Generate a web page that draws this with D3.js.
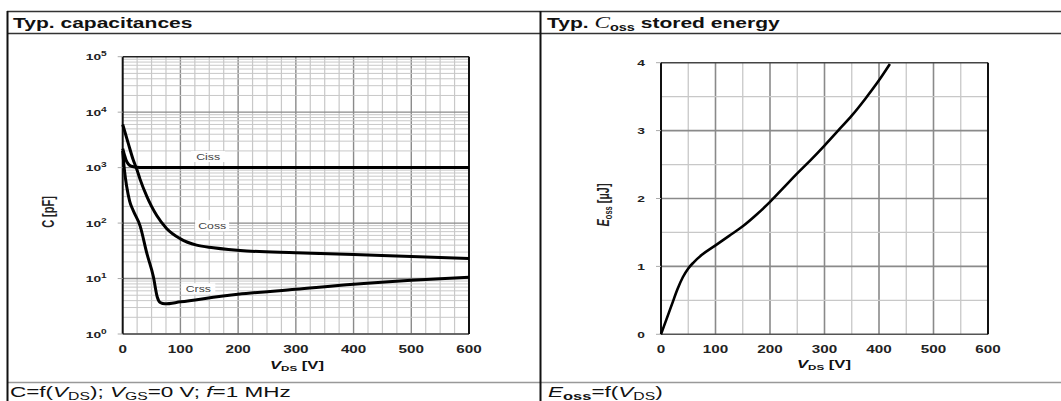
<!DOCTYPE html>
<html><head><meta charset="utf-8">
<script src="https://cdn.jsdelivr.net/npm/d3@7"></script>
<style>
body{margin:0;background:#fff;}
svg{display:block;font-family:"Liberation Sans",Arial,sans-serif;}
</style></head>
<body><svg id="c" width="1061" height="401"></svg>
<script>
// ---- Data: capacitances (pF) vs VDS (V)
const cissV = [0, 3, 6, 10, 15, 20, 30, 50, 100, 200, 300, 400, 500, 600];
const cissC = [2200, 1700, 1350, 1150, 1060, 1030, 1008, 1000, 1000, 1000, 1000, 1000, 1000, 1000];
const cossV = [0, 5, 10, 18, 25, 30, 42, 50, 59, 76, 100, 128, 157, 215, 300, 400, 500, 600];
const cossC = [6000, 4000, 2650, 1400, 900, 620, 300, 200, 137, 80, 52, 40, 36, 31.5, 29.3, 27, 25, 23];
const crssV = [0, 3, 7, 12, 18, 30, 42, 53, 60, 65, 73, 100, 200, 300, 400, 500, 600];
const crssC = [2000, 900, 450, 250, 170, 90, 28, 11, 4.6, 3.7, 3.5, 3.8, 5.2, 6.4, 7.9, 9.3, 10.5];
const capXTicks = [0, 100, 200, 300, 400, 500, 600];
const capYExp = [0, 1, 2, 3, 4, 5];
const capLabels = ["Ciss", "Coss", "Crss"];
// ---- Data: Eoss (uJ) vs VDS (V)
const eossV = [0, 10, 20, 30, 40, 50, 60, 75, 100, 125, 150, 175, 200, 225, 250, 275, 300, 325, 350, 375, 400, 420];
const eossE = [0, 0.22, 0.44, 0.66, 0.84, 0.97, 1.06, 1.17, 1.31, 1.45, 1.59, 1.76, 1.95, 2.16, 2.37, 2.57, 2.78, 3.0, 3.22, 3.47, 3.74, 3.98];
const eXTicks = [0, 100, 200, 300, 400, 500, 600];
const eYTicks = [0, 1, 2, 3, 4];

const SX = 1.45; // horizontal stretch of the source typography
const svg = d3.select("#c");

function stext(parent, x, y, opts){
  opts = opts || {};
  const g = parent.append("g").attr("transform", `translate(${x},${y}) scale(${opts.sx||SX},1)` + (opts.rot?` rotate(${opts.rot})`:""));
  return g.append("text").attr("x",0).attr("y",0).attr("text-anchor",opts.anchor||"start");
}

// ---- table frame
const frame = svg.append("g");
frame.append("line").attr("x1",7).attr("x2",1061).attr("y1",11.5).attr("y2",11.5).attr("stroke","#333").attr("stroke-width",1.5);
frame.append("line").attr("x1",7).attr("x2",1061).attr("y1",33.5).attr("y2",33.5).attr("stroke","#333").attr("stroke-width",1.5);
frame.append("line").attr("x1",7).attr("x2",1061).attr("y1",382.5).attr("y2",382.5).attr("stroke","#999").attr("stroke-width",1.5);
frame.append("line").attr("x1",7.5).attr("x2",7.5).attr("y1",11).attr("y2",401).attr("stroke","#111").attr("stroke-width",2);
frame.append("line").attr("x1",540.5).attr("x2",540.5).attr("y1",11).attr("y2",401).attr("stroke","#111").attr("stroke-width",2);

// titles
stext(svg,13,27.5).attr("font-size",14.5).attr("font-weight","bold").attr("fill","#111").text("Typ. capacitances");
const t2 = stext(svg,547,27.5).attr("font-size",14.5).attr("font-weight","bold").attr("fill","#111");
t2.append("tspan").text("Typ. ");
t2.append("tspan").attr("font-family","Liberation Serif,serif").attr("font-style","italic").attr("font-weight","normal").attr("font-size",16).text("C");
t2.append("tspan").attr("font-size",10).attr("dy",3).text("oss");
t2.append("tspan").attr("dy",-3).text(" stored energy");

// footer texts (cut by the bottom edge, as in the source)
const f1 = stext(svg,10,397,{sx:1.5}).attr("font-size",15).attr("fill","#111");
f1.append("tspan").text("C=f(");
f1.append("tspan").attr("font-style","italic").text("V");
f1.append("tspan").attr("font-size",10.5).attr("dy",2.5).text("DS");
f1.append("tspan").attr("dy",-2.5).text("); ");
f1.append("tspan").attr("font-style","italic").text("V");
f1.append("tspan").attr("font-size",10.5).attr("dy",2.5).text("GS");
f1.append("tspan").attr("dy",-2.5).text("=0 V; ");
f1.append("tspan").attr("font-style","italic").text("f");
f1.append("tspan").text("=1 MHz");
const f2 = stext(svg,548,397,{sx:1.5}).attr("font-size",15).attr("fill","#111");
f2.append("tspan").attr("font-style","italic").text("E");
f2.append("tspan").attr("font-size",11).attr("font-weight","bold").attr("dy",2.5).text("oss");
f2.append("tspan").attr("dy",-2.5).text("=f(");
f2.append("tspan").attr("font-style","italic").text("V");
f2.append("tspan").attr("font-size",10.5).attr("dy",2.5).text("DS");
f2.append("tspan").attr("dy",-2.5).text(")");

function vdsTitle(g, cx, cy){
  const t = stext(g,cx,cy,{anchor:"middle"}).attr("font-size",11.5).attr("font-weight","bold").attr("fill","#111");
  t.append("tspan").attr("font-style","italic").text("V");
  t.append("tspan").attr("font-size",8).attr("dy",1.5).text("DS");
  t.append("tspan").attr("dy",-1.5).text(" [V]");
}

// ================= Left chart
{
  const x = d3.scaleLinear().domain([0,600]).range([122.7,469]);
  const y = d3.scaleLog().domain([1,1e5]).range([334,56.7]);
  const g = svg.append("g");
  const vg = d3.range(25,600,25);
  g.selectAll(".vg").data(vg).join("line")
    .attr("x1",d=>x(d)).attr("x2",d=>x(d)).attr("y1",y(1)).attr("y2",y(1e5))
    .attr("stroke",d=>d%100===0?"#8a8a8a":"#c8c8c8").attr("stroke-width",d=>d%100===0?1.4:1.2);
  const hg = [];
  capYExp.slice(0,5).forEach(e=>{ for(let k=1;k<=9;k++) hg.push({v:k*Math.pow(10,e),major:k===1}); });
  g.selectAll(".hg").data(hg).join("line")
    .attr("x1",x(0)).attr("x2",x(600)).attr("y1",d=>y(d.v)).attr("y2",d=>y(d.v))
    .attr("stroke",d=>d.major?"#8a8a8a":"#c8c8c8").attr("stroke-width",d=>d.major?1.4:1);
  g.append("line").attr("x1",x(0)).attr("x2",x(600)).attr("y1",y(1e5)).attr("y2",y(1e5)).attr("stroke","#222").attr("stroke-width",1.5);
  g.append("line").attr("x1",x(0)).attr("x2",x(600)).attr("y1",y(1)).attr("y2",y(1)).attr("stroke","#555").attr("stroke-width",1.5);
  g.append("line").attr("x1",x(0)).attr("x2",x(0)).attr("y1",y(1)).attr("y2",y(1e5)).attr("stroke","#111").attr("stroke-width",2);
  g.append("line").attr("x1",x(600)).attr("x2",x(600)).attr("y1",y(1)).attr("y2",y(1e5)).attr("stroke","#111").attr("stroke-width",2);
  capYExp.forEach(d=>{
    const yy = y(Math.pow(10,d));
    g.append("line").attr("x1",x(0)-5).attr("x2",x(0)).attr("y1",yy).attr("y2",yy).attr("stroke","#aaa");
    const t = stext(g, x(0)-16, yy+3.5, {anchor:"end"}).attr("font-size",9.5).attr("font-weight","bold").attr("fill","#222");
    t.append("tspan").text("10");
    t.append("tspan").attr("dy",-4).attr("font-size",7).text(d);
  });
  capXTicks.forEach(d=>{
    stext(g, x(d), 352.5, {anchor:"middle"}).attr("font-size",10.5).attr("font-weight","bold").attr("fill","#222").text(d);
  });
  vdsTitle(g, 297, 369);
  stext(g, 54, 212, {anchor:"middle", rot:-90}).attr("font-size",11).attr("font-weight","bold").attr("fill","#222").text("C [pF]");
  const line = d3.line().x(d=>x(d[0])).y(d=>y(d[1])).curve(d3.curveMonotoneX);
  [[cissV,cissC],[cossV,cossC],[crssV,crssC]].forEach(([vs,cs])=>{
    g.append("path").attr("d",line(vs.map((v,i)=>[v,cs[i]]))).attr("fill","none").attr("stroke","#000").attr("stroke-width",3).attr("stroke-linejoin","round");
  });
  const labPos = [{v:148,c:1550},{v:155,c:88},{v:131,c:6.4}];
  capLabels.forEach((name,i)=>{
    const l = labPos[i];
    g.append("rect").attr("x",x(l.v)-17).attr("y",y(l.c)-6).attr("width",34).attr("height",11).attr("fill","#fff");
    stext(g, x(l.v), y(l.c)+3, {anchor:"middle"}).attr("font-size",8.5).attr("fill","#444").text(name);
  });
}

// ================= Right chart
{
  const x = d3.scaleLinear().domain([0,600]).range([661,988]);
  const y = d3.scaleLinear().domain([0,4]).range([334.3,62.7]);
  const g = svg.append("g");
  const vg = d3.range(50,600,50);
  g.selectAll(".vg").data(vg).join("line")
    .attr("x1",d=>x(d)).attr("x2",d=>x(d)).attr("y1",y(0)).attr("y2",y(4))
    .attr("stroke",d=>d%100===0?"#8a8a8a":"#c8c8c8").attr("stroke-width",d=>d%100===0?1.6:1.3);
  const hg = d3.range(0.5,4,0.5);
  g.selectAll(".hg").data(hg).join("line")
    .attr("x1",x(0)).attr("x2",x(600)).attr("y1",d=>y(d)).attr("y2",d=>y(d))
    .attr("stroke",d=>d%1===0?"#8a8a8a":"#c8c8c8").attr("stroke-width",d=>d%1===0?1.6:1.3);
  g.append("line").attr("x1",x(0)).attr("x2",x(600)).attr("y1",y(4)).attr("y2",y(4)).attr("stroke","#444").attr("stroke-width",1.5);
  g.append("line").attr("x1",x(0)).attr("x2",x(600)).attr("y1",y(0)).attr("y2",y(0)).attr("stroke","#555").attr("stroke-width",1.5);
  g.append("line").attr("x1",x(0)).attr("x2",x(0)).attr("y1",y(0)).attr("y2",y(4)).attr("stroke","#111").attr("stroke-width",2);
  g.append("line").attr("x1",x(600)).attr("x2",x(600)).attr("y1",y(0)).attr("y2",y(4)).attr("stroke","#111").attr("stroke-width",2);
  eYTicks.forEach(d=>{
    g.append("line").attr("x1",x(0)-5).attr("x2",x(0)).attr("y1",y(d)).attr("y2",y(d)).attr("stroke","#aaa");
    stext(g, x(0)-16, y(d)+3.5, {anchor:"end"}).attr("font-size",9.5).attr("font-weight","bold").attr("fill","#222").text(d);
  });
  eXTicks.forEach(d=>{
    stext(g, x(d), 352.5, {anchor:"middle"}).attr("font-size",10.5).attr("font-weight","bold").attr("fill","#222").text(d);
  });
  vdsTitle(g, 824, 368);
  const yl = stext(g, 609, 205, {anchor:"middle", rot:-90}).attr("font-size",11).attr("font-weight","bold").attr("fill","#222");
  yl.append("tspan").attr("font-style","italic").text("E");
  yl.append("tspan").attr("font-size",7.5).attr("dy",2).text("oss");
  yl.append("tspan").attr("dy",-2).text(" [µJ]");
  const line = d3.line().x(d=>x(d[0])).y(d=>y(d[1])).curve(d3.curveMonotoneX);
  g.append("path").attr("d",line(eossV.map((v,i)=>[v,eossE[i]]))).attr("fill","none").attr("stroke","#000").attr("stroke-width",2.6);
}
</script></body></html>
